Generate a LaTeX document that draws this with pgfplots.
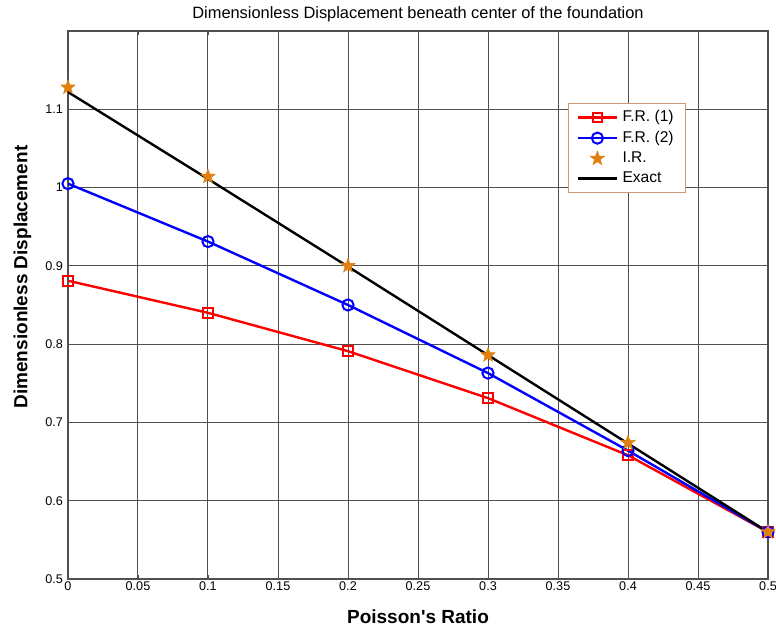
\documentclass[border=0pt]{standalone}
\usepackage{fontspec}
\setmainfont{Liberation Sans}
\usepackage{pgfplots}
\pgfplotsset{compat=1.18}
\definecolor{starorange}{RGB}{224,128,16}
\definecolor{legedge}{RGB}{205,150,120}
\definecolor{gridgray}{RGB}{80,80,80}

% filled five-point star
\pgfdeclareplotmark{fstar}{%
  \pgfpathmoveto{\pgfpointpolar{90}{\pgfplotmarksize}}%
  \pgfpathlineto{\pgfpointpolar{126}{0.42\pgfplotmarksize}}%
  \pgfpathlineto{\pgfpointpolar{162}{\pgfplotmarksize}}%
  \pgfpathlineto{\pgfpointpolar{198}{0.42\pgfplotmarksize}}%
  \pgfpathlineto{\pgfpointpolar{234}{\pgfplotmarksize}}%
  \pgfpathlineto{\pgfpointpolar{270}{0.42\pgfplotmarksize}}%
  \pgfpathlineto{\pgfpointpolar{306}{\pgfplotmarksize}}%
  \pgfpathlineto{\pgfpointpolar{342}{0.42\pgfplotmarksize}}%
  \pgfpathlineto{\pgfpointpolar{18}{\pgfplotmarksize}}%
  \pgfpathlineto{\pgfpointpolar{54}{0.42\pgfplotmarksize}}%
  \pgfpathclose
  \pgfusepathqfillstroke
}

\pgfplotsset{
  lineleg/.style={legend image code/.code={%
      \draw[mark repeat=2, mark phase=2, ##1]
          plot coordinates {(0cm,0cm) (0.35cm,0cm) (0.7cm,0cm)};}},
  markleg/.style={legend image code/.code={%
      \draw[##1] plot coordinates {(0.35cm,0cm)};}},
}

\begin{document}
\begin{tikzpicture}
\begin{axis}[
    scale only axis,
    width=350pt,
    height=274pt,
    xmin=0, xmax=0.5,
    ymin=0.5, ymax=1.2,
    xtick={0,0.05,...,0.5},
    ytick={0.5,0.6,...,1.1},
    xticklabel style={/pgf/number format/fixed, /pgf/number format/precision=2},
    /pgf/number format/assume math mode=true,
    tick label style={font=\fontsize{6.3}{7}\selectfont},
    xticklabel shift=-2pt,
    yticklabel shift=-1pt,
    major tick length=2pt,
    tick style={gridgray, thin},
    grid=major,
    grid style={gridgray, line width=0.5pt},
    axis line style={gridgray, line width=0.6pt},
    every axis title shift=0pt,
    title={Dimensionless Displacement beneath center of the foundation},
    title style={font=\fontsize{8.2}{10}\selectfont, at={(axis description cs:0.5,1.031)}, anchor=center},
    xlabel={\textbf{Poisson\textquotesingle s Ratio}},
    ylabel={\textbf{Dimensionless Displacement}},
    label style={font=\fontsize{9.5}{11}\selectfont},
    xlabel style={at={(axis description cs:0.5,-0.0693)}, anchor=center},
    ylabel style={at={(axis description cs:-0.065,0.551)}, anchor=center},
    legend style={
        at={(0.714,0.869)}, anchor=north west,
        draw=legedge, line width=0.5pt,
        font=\fontsize{7.8}{9}\selectfont,
        row sep=-0.8pt,
        inner xsep=4pt, inner ysep=1.5pt,
    },
    legend cell align=left,
    lineleg,
]
\addplot[red, line width=1.2pt, mark=square, mark size=2.4pt, mark options={line width=1pt}]
  coordinates {(0,0.881) (0.1,0.840) (0.2,0.791) (0.3,0.731) (0.4,0.658) (0.5,0.560)};
\addlegendentry{F.R. (1)}
\addplot[blue, line width=1.2pt, mark=o, mark size=2.8pt, mark options={line width=1pt}]
  coordinates {(0,1.005) (0.1,0.931) (0.2,0.850) (0.3,0.763) (0.4,0.664) (0.5,0.560)};
\addlegendentry{F.R. (2)}
\addplot[only marks, mark=fstar, color=starorange, mark size=3.7pt,
         mark options={fill=starorange, line width=0.3pt}, markleg]
  coordinates {(0,1.128) (0.1,1.014) (0.2,0.900) (0.3,0.786) (0.4,0.674) (0.5,0.560)};
\addlegendentry{I.R.}
\addplot[black, line width=1.2pt]
  coordinates {(0,1.122) (0.1,1.011) (0.2,0.899) (0.3,0.786) (0.4,0.673) (0.5,0.560)};
\addlegendentry{Exact}
\end{axis}
\pgfresetboundingbox
\path ([shift={(-34pt,-24.5pt)}]current axis.south west) rectangle ([shift={(4pt,15.5pt)}]current axis.north east);
\end{tikzpicture}
\end{document}
